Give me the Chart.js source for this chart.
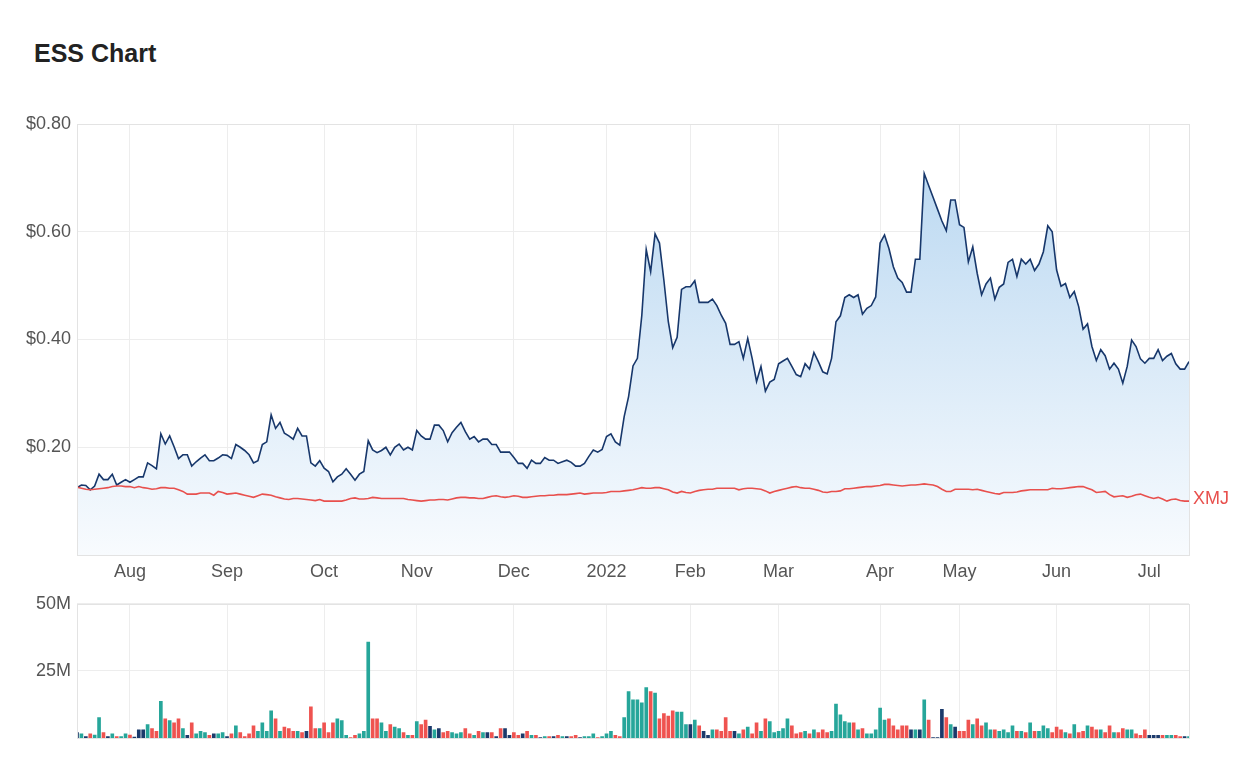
<!DOCTYPE html>
<html lang="en">
<head>
    <meta charset="UTF-8">
    <title>ESS Chart</title>
    <script src="https://cdn.jsdelivr.net/npm/chart.js"></script>
    <style>
        body {
            margin: 0;
            padding: 0;
            background: #fff;
            font-family: 'Liberation Sans', Arial, sans-serif;
        }
        .wrap {
            position: relative;
            width: 1254px;
            height: 774px;
            overflow: hidden;
        }
        h1 {
            position: absolute;
            left: 34px;
            top: 41px;
            margin: 0;
            font-size: 25px;
            line-height: 25px;
            font-weight: bold;
            color: #222;
        }
        canvas {
            position: absolute;
            left: 0;
        }
        #priceChart { top: 0; }
        #volumeChart { top: 587px; }
    </style>
</head>
<body>
<div class="wrap">
    <h1>ESS Chart</h1>
    <canvas id="priceChart" width="1254" height="590"></canvas>
    <canvas id="volumeChart" width="1254" height="168"></canvas>
</div>

<script>
    // Eje x: un punto por sesión (índice), marcas al inicio de cada mes
    const monthIdx = [12, 34, 56, 77, 99, 120, 139, 159, 182, 200, 222, 243];
    const monthLabels = ['Aug', 'Sep', 'Oct', 'Nov', 'Dec', '2022', 'Feb', 'Mar', 'Apr', 'May', 'Jun', 'Jul'];

    // Precio de cierre ESS ($)
    const essPrice = [
        0.125, 0.130, 0.129, 0.121, 0.128, 0.150, 0.140, 0.140, 0.150, 0.130,
        0.135, 0.140, 0.135, 0.140, 0.145, 0.145, 0.171, 0.166, 0.160, 0.225,
        0.206, 0.221, 0.201, 0.179, 0.186, 0.186, 0.165, 0.173, 0.180, 0.186,
        0.175, 0.175, 0.180, 0.186, 0.185, 0.179, 0.205, 0.200, 0.194, 0.186,
        0.171, 0.175, 0.205, 0.210, 0.260, 0.235, 0.246, 0.226, 0.221, 0.215,
        0.235, 0.221, 0.221, 0.171, 0.165, 0.175, 0.161, 0.155, 0.136, 0.145,
        0.150, 0.160, 0.150, 0.139, 0.150, 0.155, 0.212, 0.195, 0.190, 0.194,
        0.200, 0.186, 0.200, 0.206, 0.195, 0.200, 0.195, 0.231, 0.221, 0.215,
        0.215, 0.241, 0.241, 0.231, 0.210, 0.227, 0.237, 0.246, 0.229, 0.215,
        0.220, 0.210, 0.215, 0.215, 0.205, 0.205, 0.191, 0.191, 0.191, 0.181,
        0.170, 0.170, 0.161, 0.176, 0.170, 0.170, 0.181, 0.176, 0.176, 0.170,
        0.173, 0.176, 0.172, 0.165, 0.165, 0.170, 0.183, 0.195, 0.191, 0.196,
        0.220, 0.225, 0.210, 0.204, 0.257, 0.294, 0.351, 0.365, 0.445, 0.567,
        0.526, 0.596, 0.579, 0.510, 0.433, 0.385, 0.404, 0.493, 0.498, 0.498,
        0.509, 0.469, 0.469, 0.469, 0.475, 0.463, 0.445, 0.430, 0.391, 0.391,
        0.396, 0.365, 0.402, 0.365, 0.322, 0.350, 0.304, 0.321, 0.326, 0.355,
        0.360, 0.365, 0.350, 0.335, 0.331, 0.355, 0.345, 0.376, 0.359, 0.340,
        0.336, 0.365, 0.433, 0.444, 0.478, 0.483, 0.478, 0.483, 0.447, 0.458,
        0.463, 0.479, 0.579, 0.594, 0.569, 0.535, 0.514, 0.506, 0.488, 0.488,
        0.549, 0.549, 0.708, 0.686, 0.664, 0.642, 0.620, 0.602, 0.659, 0.659,
        0.613, 0.608, 0.544, 0.572, 0.523, 0.483, 0.503, 0.514, 0.475, 0.497,
        0.503, 0.543, 0.549, 0.517, 0.549, 0.540, 0.549, 0.528, 0.540, 0.563,
        0.611, 0.600, 0.529, 0.499, 0.504, 0.478, 0.489, 0.461, 0.419, 0.429,
        0.387, 0.361, 0.381, 0.370, 0.345, 0.356, 0.345, 0.319, 0.350, 0.399,
        0.387, 0.364, 0.356, 0.365, 0.365, 0.381, 0.361, 0.369, 0.374, 0.355,
        0.345, 0.345, 0.359
    ];

    // Índice XMJ, rebasado al precio inicial de ESS
    const xmjPrice = [
        0.126, 0.124, 0.122, 0.121, 0.122, 0.123, 0.124, 0.125, 0.127, 0.128,
        0.128, 0.127, 0.127, 0.125, 0.127, 0.125, 0.124, 0.122, 0.123, 0.125,
        0.125, 0.124, 0.124, 0.121, 0.118, 0.113, 0.113, 0.113, 0.115, 0.115,
        0.115, 0.111, 0.118, 0.116, 0.113, 0.114, 0.115, 0.113, 0.111, 0.109,
        0.107, 0.110, 0.113, 0.112, 0.111, 0.108, 0.106, 0.104, 0.103, 0.105,
        0.105, 0.104, 0.103, 0.102, 0.101, 0.103, 0.100, 0.100, 0.100, 0.100,
        0.100, 0.102, 0.105, 0.106, 0.104, 0.104, 0.105, 0.107, 0.106, 0.105,
        0.105, 0.105, 0.105, 0.105, 0.105, 0.103, 0.102, 0.101, 0.100, 0.101,
        0.102, 0.102, 0.103, 0.103, 0.102, 0.104, 0.106, 0.107, 0.107, 0.106,
        0.106, 0.105, 0.105, 0.107, 0.109, 0.110, 0.108, 0.107, 0.108, 0.110,
        0.109, 0.107, 0.107, 0.108, 0.109, 0.110, 0.110, 0.111, 0.111, 0.112,
        0.112, 0.112, 0.113, 0.114, 0.115, 0.113, 0.114, 0.115, 0.115, 0.115,
        0.116, 0.118, 0.118, 0.118, 0.119, 0.120, 0.121, 0.123, 0.125, 0.124,
        0.124, 0.125, 0.125, 0.123, 0.121, 0.117, 0.115, 0.118, 0.116, 0.115,
        0.118, 0.120, 0.121, 0.122, 0.122, 0.124, 0.124, 0.124, 0.124, 0.124,
        0.121, 0.123, 0.124, 0.124, 0.123, 0.122, 0.119, 0.115, 0.118, 0.120,
        0.122, 0.124, 0.126, 0.127, 0.125, 0.124, 0.124, 0.122, 0.120, 0.117,
        0.116, 0.118, 0.118, 0.119, 0.123, 0.123, 0.124, 0.125, 0.126, 0.127,
        0.127, 0.128, 0.129, 0.131, 0.131, 0.130, 0.129, 0.128, 0.129, 0.130,
        0.130, 0.131, 0.132, 0.131, 0.130, 0.127, 0.122, 0.118, 0.118, 0.122,
        0.122, 0.122, 0.122, 0.121, 0.122, 0.120, 0.118, 0.116, 0.114, 0.113,
        0.116, 0.116, 0.116, 0.117, 0.119, 0.120, 0.121, 0.121, 0.121, 0.121,
        0.121, 0.124, 0.123, 0.123, 0.124, 0.125, 0.126, 0.127, 0.127, 0.124,
        0.121, 0.116, 0.117, 0.118, 0.112, 0.108, 0.109, 0.110, 0.107, 0.109,
        0.112, 0.113, 0.110, 0.107, 0.105, 0.107, 0.104, 0.100, 0.103, 0.104,
        0.101, 0.100, 0.100
    ];

    // Volumen (millones de acciones)
    const volumeM = [
        2.1, 1.6, 0.6, 1.6, 1.2, 7.7, 2.1, 0.6, 1.6, 0.6,
        0.6, 1.6, 1.2, 0.4, 3.1, 3.1, 5.1, 3.6, 2.6, 13.7,
        7.2, 6.6, 5.7, 7.2, 3.6, 1.1, 5.7, 1.6, 2.6, 2.1,
        1.1, 1.6, 1.6, 2.1, 0.6, 1.6, 4.6, 2.1, 0.6, 1.6,
        4.6, 2.6, 5.7, 2.6, 10.2, 7.2, 2.6, 4.1, 3.6, 2.6,
        2.6, 2.1, 2.6, 11.7, 3.6, 3.6, 5.7, 2.1, 5.7, 7.2,
        6.6, 1.1, 0.2, 1.1, 1.6, 2.6, 35.8, 7.2, 7.2, 5.7,
        2.6, 5.1, 4.1, 3.6, 2.1, 1.1, 1.1, 6.2, 5.1, 6.7,
        4.4, 3.1, 3.6, 2.1, 2.6, 2.1, 1.6, 2.1, 3.6, 1.6,
        1.1, 2.6, 2.1, 2.1, 2.1, 0.6, 3.6, 3.6, 1.1, 2.1,
        1.1, 1.6, 2.6, 1.1, 1.1, 0.2, 0.6, 0.6, 0.6, 1.1,
        0.6, 0.6, 0.6, 1.1, 0.2, 0.6, 0.6, 1.6, 0.2, 0.6,
        1.6, 2.6, 1.1, 0.6, 7.7, 17.3, 14.3, 14.3, 13.2, 18.8,
        17.3, 16.8, 7.2, 9.2, 8.2, 10.2, 9.7, 9.7, 5.1, 5.1,
        6.7, 4.6, 2.6, 1.1, 3.1, 3.1, 2.6, 7.7, 2.6, 2.6,
        1.6, 3.1, 4.1, 1.6, 5.7, 2.6, 7.2, 6.2, 2.1, 2.6,
        3.6, 7.2, 4.6, 1.6, 2.1, 2.6, 1.6, 3.1, 2.1, 3.1,
        2.1, 2.6, 12.7, 8.7, 6.2, 5.7, 5.7, 3.1, 3.6, 1.6,
        1.6, 3.1, 11.2, 6.7, 7.2, 4.6, 3.1, 4.6, 4.6, 3.1,
        3.1, 3.1, 14.3, 6.7, 0.2, 0.2, 10.7, 7.7, 5.1, 4.1,
        2.6, 2.6, 6.7, 5.1, 7.2, 4.6, 5.7, 3.1, 3.1, 2.6,
        3.1, 2.1, 4.6, 2.6, 2.6, 2.1, 5.7, 2.6, 2.6, 4.6,
        3.6, 2.1, 4.1, 3.1, 2.1, 1.6, 5.1, 2.1, 2.6, 4.6,
        4.1, 3.1, 3.1, 2.1, 4.6, 2.1, 2.1, 3.6, 3.1, 3.1,
        1.6, 1.1, 3.1, 1.1, 1.1, 1.1, 1.1, 1.1, 1.1, 1.1,
        0.6, 0.6, 0.6
    ];

    // Movimiento del día: 1 sube, -1 baja, 0 sin cambio
    const volumeMove = [
        0, 1, 0, -1, 1, 1, -1, 0, 1, -1,
        1, 1, -1, 0, 0, 0, 1, -1, -1, 1,
        -1, 1, -1, -1, 1, 0, -1, 1, 1, 1,
        -1, 0, 1, 1, 0, -1, 1, -1, -1, -1,
        -1, 1, 1, 1, 1, -1, 1, -1, -1, -1,
        1, -1, 0, -1, -1, 1, -1, -1, -1, 1,
        1, 1, -1, -1, 1, 1, 1, -1, -1, 1,
        1, -1, 1, 1, -1, 1, -1, 1, -1, -1,
        0, 1, 0, -1, -1, 1, 1, 1, -1, -1,
        1, -1, 1, 0, -1, 0, -1, 0, 0, -1,
        -1, 0, -1, 1, -1, 0, 1, -1, 0, -1,
        1, 0, -1, -1, 0, 1, 1, 1, -1, 1,
        1, 1, -1, -1, 1, 1, 1, 1, 1, 1,
        -1, 1, -1, -1, -1, -1, 1, 1, 1, 0,
        1, -1, 0, 0, 1, -1, -1, -1, -1, 0,
        1, -1, 1, -1, -1, 1, -1, 1, 1, 1,
        1, 1, -1, -1, -1, 1, -1, 1, -1, -1,
        -1, 1, 1, 1, 1, 1, -1, 1, -1, 1,
        1, 1, 1, 1, -1, -1, -1, -1, -1, 0,
        1, 0, 1, -1, 0, 0, 0, -1, 1, 0,
        -1, -1, -1, 1, -1, -1, 1, 1, -1, 1,
        1, 1, 1, -1, 1, -1, 1, -1, 1, 1,
        1, -1, -1, -1, 1, -1, 1, -1, -1, 1,
        -1, -1, 1, -1, -1, 1, -1, -1, 1, 1,
        -1, -1, -1, 0, 0, 0, -1, 1, 1, -1,
        -1, 0, 1
    ];

    const lastIdx = essPrice.length - 1;
    const tickFont = { family: "'Liberation Sans', Arial, sans-serif", size: 18 };
    const tickColor = '#555';
    const gridColor = '#ededed';
    const moveColors = { '1': '#26a69a', '-1': '#ef5350', '0': '#1b3a6b' };

    // Marco gris alrededor del área del gráfico
    const framePlugin = {
        id: 'frame',
        afterDraw(chart) {
            const a = chart.chartArea;
            const ctx = chart.ctx;
            ctx.save();
            ctx.strokeStyle = '#e3e3e3';
            ctx.lineWidth = 1;
            ctx.strokeRect(Math.round(a.left) + 0.5, Math.round(a.top) + 0.5,
                Math.round(a.right - a.left), Math.round(a.bottom - a.top));
            ctx.restore();
        }
    };

    // Etiqueta "XMJ" al final de la línea del índice
    const xmjLabelPlugin = {
        id: 'xmjLabel',
        afterDatasetsDraw(chart) {
            const meta = chart.getDatasetMeta(1);
            const pt = meta.data[meta.data.length - 1];
            const ctx = chart.ctx;
            ctx.save();
            ctx.font = "18px 'Liberation Sans', Arial, sans-serif";
            ctx.fillStyle = '#e8504d';
            ctx.textBaseline = 'middle';
            ctx.textAlign = 'left';
            ctx.fillText('XMJ', pt.x + 4, pt.y - 2);
            ctx.restore();
        }
    };

    function monthTicks(scale) {
        scale.ticks = monthIdx.map(v => ({ value: v }));
    }

    const xAxisBase = {
        type: 'linear',
        min: 0,
        max: lastIdx,
        afterBuildTicks: monthTicks,
        grid: { color: gridColor, drawTicks: false, offset: false },
        border: { display: false },
        ticks: {
            autoSkip: false,
            maxRotation: 0,
            font: tickFont,
            color: tickColor,
            padding: 6,
            callback: (v, i) => monthLabels[i]
        }
    };

    new Chart(document.getElementById('priceChart'), {
        type: 'line',
        data: {
            datasets: [{
                label: 'ESS',
                data: essPrice.map((v, i) => ({ x: i, y: v })),
                borderColor: '#17376b',
                borderWidth: 1.6,
                pointRadius: 0,
                tension: 0,
                fill: 'origin',
                order: 2,
                backgroundColor: (c) => {
                    const a = c.chart.chartArea;
                    if (!a) return 'rgba(190,220,242,0.6)';
                    const g = c.chart.ctx.createLinearGradient(0, a.top, 0, a.bottom);
                    g.addColorStop(0, '#b5d5f0');
                    g.addColorStop(1, '#f8fbfe');
                    return g;
                }
            }, {
                label: 'XMJ',
                data: xmjPrice.map((v, i) => ({ x: i, y: v })),
                borderColor: '#e8504d',
                borderWidth: 1.6,
                pointRadius: 0,
                tension: 0,
                fill: false,
                order: 1
            }]
        },
        options: {
            responsive: false,
            animation: false,
            layout: { padding: { top: 124, right: 65, bottom: 0, left: 0 } },
            plugins: { legend: { display: false }, tooltip: { enabled: false } },
            scales: {
                x: Object.assign({}, xAxisBase, {
                    afterFit: (s) => { s.height = 35; }
                }),
                y: {
                    min: 0,
                    max: 0.8,
                    afterFit: (s) => { s.width = 77; },
                    grid: { color: gridColor, drawTicks: false },
                    border: { display: false },
                    ticks: {
                        stepSize: 0.2,
                        font: tickFont,
                        color: tickColor,
                        padding: 6,
                        callback: (v) => v === 0 ? '' : '$' + v.toFixed(2)
                    }
                }
            }
        },
        plugins: [framePlugin, xmjLabelPlugin]
    });

    new Chart(document.getElementById('volumeChart'), {
        type: 'bar',
        data: {
            datasets: [{
                label: 'Volume',
                data: volumeM.map((v, i) => ({ x: i, y: v })),
                backgroundColor: volumeMove.map(m => moveColors[m]),
                barThickness: 3,
                borderWidth: 0
            }]
        },
        options: {
            responsive: false,
            animation: false,
            layout: { padding: { top: 13, right: 65, bottom: 12, left: 0 } },
            plugins: { legend: { display: false }, tooltip: { enabled: false } },
            scales: {
                x: Object.assign({}, xAxisBase, {
                    offset: false,
                    ticks: Object.assign({}, xAxisBase.ticks, { display: false }),
                    afterFit: (s) => { s.height = 0; }
                }),
                y: {
                    min: 0,
                    max: 50,
                    afterFit: (s) => { s.width = 77; },
                    grid: { color: gridColor, drawTicks: false },
                    border: { display: false },
                    ticks: {
                        stepSize: 25,
                        font: tickFont,
                        color: tickColor,
                        padding: 6,
                        callback: (v) => v === 0 ? '' : v + 'M'
                    }
                }
            }
        },
        plugins: [framePlugin]
    });
</script>
</body>
</html>
